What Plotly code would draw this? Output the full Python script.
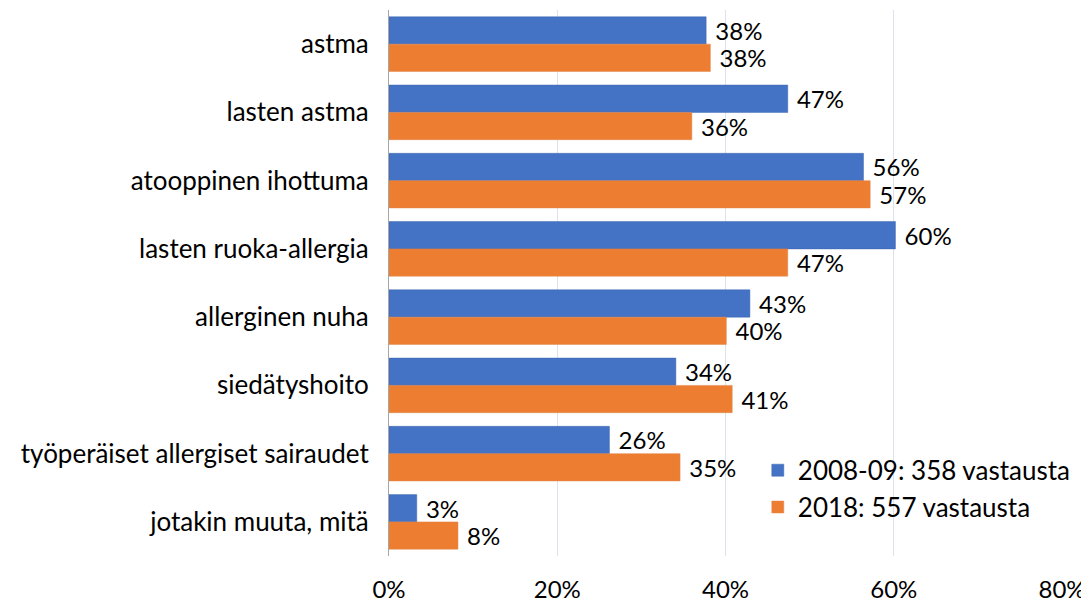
import plotly.graph_objects as go

categories = ["astma", "lasten astma", "atooppinen ihottuma", "lasten ruoka-allergia",
              "allerginen nuha", "siedätyshoito", "työperäiset allergiset sairaudet",
              "jotakin muuta, mitä"]
values_2008 = [0.377, 0.474, 0.564, 0.602, 0.429, 0.341, 0.262, 0.033]
values_2018 = [0.382, 0.360, 0.572, 0.474, 0.401, 0.408, 0.346, 0.082]
series_names = ["2008-09: 358 vastausta", "2018: 557 vastausta"]
tick_vals = [0, 0.2, 0.4, 0.6, 0.8]
tick_text = ["0%", "20%", "40%", "60%", "80%"]

FONT = "Lato, 'Open Sans', sans-serif"

fig = go.Figure()
for name, vals, col, line in [(series_names[0], values_2008, "#4472C4", "#3d66b0"),
                              (series_names[1], values_2018, "#ED7D31", "#e0874a")]:
    fig.add_trace(go.Bar(
        y=categories, x=vals, name=name, orientation="h",
        marker=dict(color=col, line=dict(color=line, width=0.5)),
        text=vals, texttemplate="\u00a0%{x:.0%}", textposition="outside",
        textfont=dict(size=24, color="#000000", family=FONT),
        constraintext="none", cliponaxis=False,
    ))

# page body adds an 8px offset, so the figure is 8px smaller and margins shifted
fig.update_layout(
    width=1081, height=597,
    margin=dict(l=381, r=27, t=2, b=49, autoexpand=False),
    paper_bgcolor="white", plot_bgcolor="white",
    barmode="group", bargap=0.2, bargroupgap=0,
    font=dict(family=FONT, size=24, color="#000000"),
    showlegend=True,
    legend=dict(x=0.548, y=0.2, xanchor="left", yanchor="top",
                traceorder="normal", font=dict(size=26, family=FONT),
                bgcolor="rgba(0,0,0,0)", itemwidth=30, tracegroupgap=0),
    xaxis=dict(range=[0, 0.8], tickvals=tick_vals, ticktext=tick_text,
               showgrid=True, gridcolor="#dce3ee", gridwidth=1,
               zeroline=False, showline=False, ticks="", automargin=False,
               tickfont=dict(size=24, family=FONT), ticklabelstandoff=17),
    yaxis=dict(autorange="reversed", showline=True, linecolor="#a6a6a6", linewidth=1,
               ticks="", tickfont=dict(size=26, family=FONT), ticklabelstandoff=14,
               showgrid=False, automargin=False),
)

fig.write_html("out.html")
